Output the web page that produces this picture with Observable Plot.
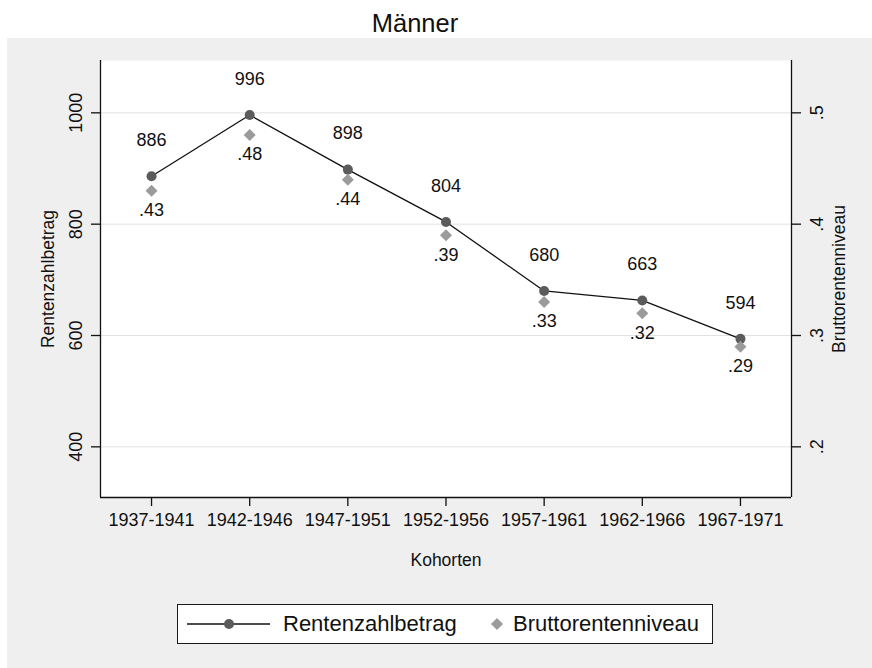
<!DOCTYPE html>
<html>
<head>
<meta charset="utf-8">
<script src="https://cdn.jsdelivr.net/npm/d3@7"></script>
<script src="https://cdn.jsdelivr.net/npm/@observablehq/plot@0.6"></script>
<style>
  html, body { margin: 0; padding: 0; background: #ffffff; }
  body { width: 872px; height: 668px; position: relative; overflow: hidden;
         font-family: "Liberation Sans", Arial, Helvetica, sans-serif; color: #111; }
  #bg { position: absolute; left: 7px; top: 38px; width: 865px; height: 630px; background: #efefef; }
  #title { position: absolute; left: 0; top: 4px; width: 830px; text-align: center;
           font-size: 25.5px; line-height: 38px; }
  #chart { position: absolute; left: 7px; top: 38px; }
  #legend { position: absolute; left: 177px; top: 604px; width: 534px; height: 38px;
            background: #fff; border: 1.5px solid #1a1a1a; box-sizing: content-box; }
  .lg { position: absolute; top: 0; line-height: 38px; font-size: 22px; white-space: nowrap; }
  .sw { position: absolute; top: 0; }
</style>
</head>
<body>
<div id="bg"></div>
<div id="title">Männer</div>
<div id="chart"></div>
<div id="legend">
  <svg class="sw" style="left:8px" width="86" height="38">
    <line x1="1" x2="84" y1="19" y2="19" stroke="#111" stroke-width="1.3"></line>
    <circle cx="43" cy="19" r="5" fill="#5b5b5b"></circle>
  </svg>
  <span class="lg" style="left:105px">Rentenzahlbetrag</span>
  <svg class="sw" style="left:309px" width="20" height="38">
    <path d="M10,13 L16,19 L10,25 L4,19 Z" fill="#9b9b9b"></path>
  </svg>
  <span class="lg" style="left:335px">Bruttorentenniveau</span>
</div>
<script>
// ---- data ----
const cohorts = ["1937-1941", "1942-1946", "1947-1951", "1952-1956", "1957-1961", "1962-1966", "1967-1971"];
const rentenzahlbetrag = [886, 996, 898, 804, 680, 663, 594];
const bruttorentenniveau = [0.43, 0.48, 0.44, 0.39, 0.33, 0.32, 0.29];
const leftTicks = [400, 600, 800, 1000];
const rightTicks = [0.2, 0.3, 0.4, 0.5];
const xLabel = "Kohorten";
const yLabelLeft = "Rentenzahlbetrag";
const yLabelRight = "Bruttorentenniveau";

// right axis maps onto left axis: .2 -> 400, .5 -> 1000
const ratio = 2000;
const rows = cohorts.map((c, i) => ({i, cohort: c, amount: rentenzahlbetrag[i], rate: bruttorentenniveau[i]}));
const fmtRate = v => d3.format(".2f")(v).replace(/^0/, "").replace(/0$/, "");
const fmtRate1 = v => d3.format(".1f")(v).replace(/^0/, "");

const xDomain = [-0.52, cohorts.length - 1 + 0.52];
const yDomain = [309, 1094];
const axisColor = "#111";
const mid = {textAnchor: "middle", lineAnchor: "middle", fill: axisColor};

const chart = Plot.plot({
  width: 865,
  height: 552,
  marginLeft: 93,
  marginRight: 81,
  marginTop: 22,
  marginBottom: 93,
  style: {fontFamily: "'Liberation Sans', Arial, Helvetica, sans-serif", background: "transparent", color: axisColor},
  x: {type: "linear", domain: xDomain, axis: null},
  y: {domain: yDomain, axis: null},
  marks: [
    Plot.frame({fill: "white", stroke: "none"}),
    Plot.gridY(leftTicks, {stroke: "#e2e2e2", strokeOpacity: 1, strokeWidth: 1}),
    // axis lines
    Plot.ruleY([yDomain[0]], {stroke: axisColor, strokeWidth: 1.3}),
    Plot.ruleX([xDomain[0], xDomain[1]], {stroke: axisColor, strokeWidth: 1.3}),
    // tick marks
    Plot.axisY({anchor: "left", ticks: leftTicks, tickSize: 9, tickFormat: () => "", label: null, strokeWidth: 1.3}),
    Plot.axisY({anchor: "right", ticks: rightTicks.map(v => v * ratio), tickSize: 9, tickFormat: () => "", label: null, strokeWidth: 1.3}),
    Plot.axisX({anchor: "bottom", ticks: d3.range(cohorts.length), tickSize: 9, tickFormat: () => "", label: null, strokeWidth: 1.3}),
    // tick labels
    Plot.text(leftTicks, {y: d => d, text: d => String(d), frameAnchor: "left", dx: -24, rotate: -90, fontSize: 18, ...mid}),
    Plot.text(rightTicks, {y: d => d * ratio, text: d => fmtRate1(d), frameAnchor: "right", dx: 26, rotate: -90, fontSize: 18, ...mid}),
    Plot.text(rows, {x: "i", text: "cohort", frameAnchor: "bottom", dy: 23, fontSize: 18, ...mid}),
    // axis titles
    Plot.text([xLabel], {text: d => d, frameAnchor: "bottom", dy: 63, fontSize: 17.5, ...mid}),
    Plot.text([yLabelLeft], {text: d => d, frameAnchor: "left", dx: -52, rotate: -90, fontSize: 17.5, ...mid}),
    Plot.text([yLabelRight], {text: d => d, frameAnchor: "right", dx: 48, rotate: -90, fontSize: 17.5, ...mid}),
    // data
    Plot.line(rows, {x: "i", y: "amount", stroke: "#111", strokeWidth: 1.3}),
    Plot.dot(rows, {x: "i", y: "amount", r: 5, fill: "#5b5b5b", stroke: "none"}),
    Plot.dot(rows, {x: "i", y: d => d.rate * ratio, symbol: "diamond2", r: 5.4, fill: "#9b9b9b", stroke: "none"}),
    Plot.text(rows, {x: "i", y: "amount", text: d => String(d.amount), dy: -36, fontSize: 18, ...mid}),
    Plot.text(rows, {x: "i", y: d => d.rate * ratio, text: d => fmtRate(d.rate), dy: 19.5, fontSize: 18, ...mid})
  ]
});
document.getElementById("chart").appendChild(chart);
</script>
</body>
</html>
